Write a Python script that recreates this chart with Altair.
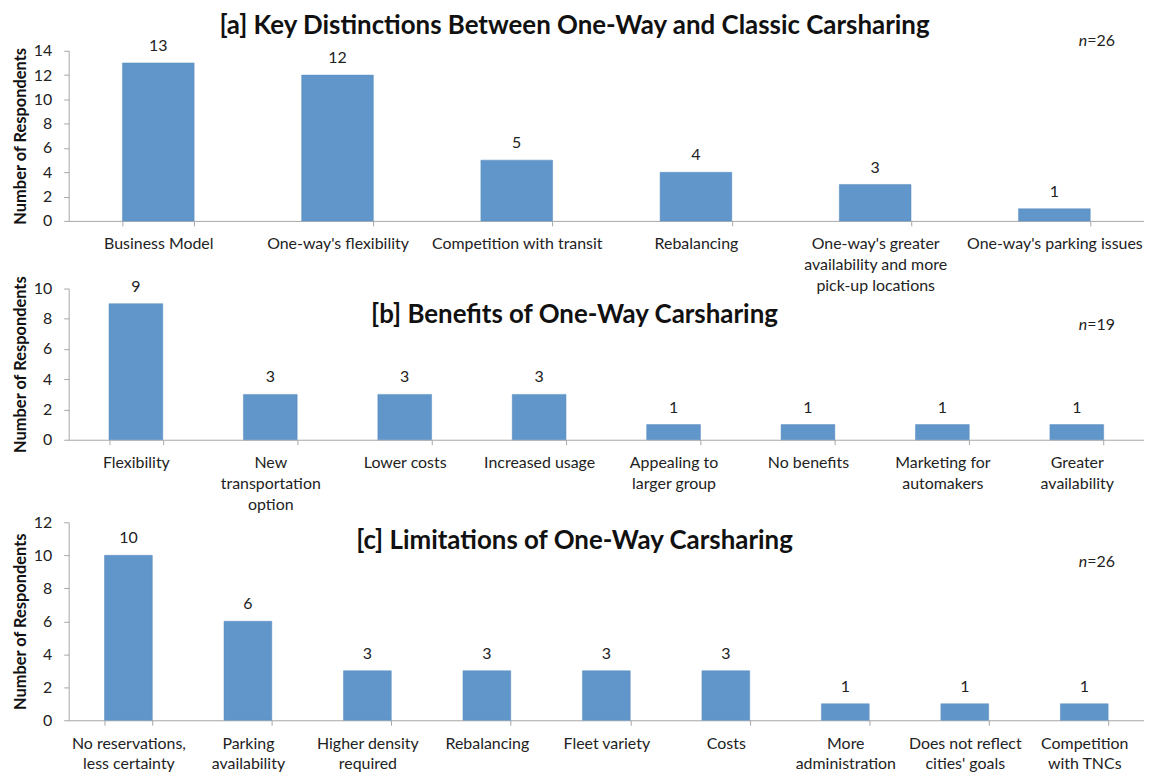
import altair as alt
import pandas as pd

# ---- data ----
cats_a = ["Business Model", "One-way's flexibility", "Competition with transit", "Rebalancing",
          "One-way's greater|availability and more|pick-up locations", "One-way's parking issues"]
vals_a = [13, 12, 5, 4, 3, 1]

cats_b = ["Flexibility", "New|transportation|option", "Lower costs", "Increased usage",
          "Appealing to|larger group", "No benefits", "Marketing for|automakers", "Greater|availability"]
vals_b = [9, 3, 3, 3, 1, 1, 1, 1]

cats_c = ["No reservations,|less certainty", "Parking|availability", "Higher density|required",
          "Rebalancing", "Fleet variety", "Costs", "More|administration",
          "Does not reflect|cities' goals", "Competition|with TNCs"]
vals_c = [10, 6, 3, 3, 3, 3, 1, 1, 1]

titles = ["[a] Key Distinctions Between One-Way and Classic Carsharing",
          "[b] Benefits of One-Way Carsharing",
          "[c] Limitations of One-Way Carsharing"]
ns = ["26", "19", "26"]
ymax = [14, 10, 12]
yticks = [list(range(0, 15, 2)), list(range(0, 11, 2)), list(range(0, 13, 2))]

W = 1081
heights = [171, 152, 199]
title_y = [-25, 27, 19]
n_y = [-10, 37, 40]

BAR = "#6096c9"
GREY = "#a6a6a6"
FONT = "Lato"


def panel(cats, vals, i):
    df = pd.DataFrame({"cat": cats, "val": vals})
    base = alt.Chart(df).encode(
        x=alt.X("cat:N", sort=cats,
                scale=alt.Scale(paddingInner=0.6, paddingOuter=0.3),
                axis=alt.Axis(title=None, labelAngle=0, labelExpr="split(datum.label, '|')",
                              tickBand="extent", tickSize=5, tickColor=GREY, domainColor=GREY,
                              labelFontSize=16, labelColor="#222222", labelPadding=10,
                              labelLineHeight=21, labelBaseline="top", labelFont=FONT)),
        y=alt.Y("val:Q", scale=alt.Scale(domain=[0, ymax[i]], nice=False),
                axis=alt.Axis(title="Number of Respondents", values=yticks[i], grid=False,
                              tickSize=5, tickColor=GREY, domainColor=GREY,
                              labelFontSize=16, labelColor="#222222", labelPadding=12,
                              titleFontSize=16.5, titleFontWeight="bold", titleColor="#111111",
                              titlePadding=5, titleFont=FONT, labelFont=FONT)),
    )
    bars = base.mark_bar(color=BAR, stroke="#5a8cbf", strokeWidth=0.5)
    labels = base.mark_text(dy=-17, fontSize=16, color="#222222", font=FONT).encode(text="val:Q")
    tdf = pd.DataFrame({"t": [titles[i]]})
    ttl = alt.Chart(tdf).mark_text(fontSize=26, fontWeight="bold", color="#111111", font=FONT).encode(
        text="t:N", x=alt.value(W / 2 - 32), y=alt.value(title_y[i]))
    ndf = pd.DataFrame({"n": ["n"], "v": ["=" + ns[i]]})
    nlab = alt.Chart(ndf).mark_text(fontSize=16, fontStyle="italic", color="#222222", font=FONT,
                                    align="right").encode(
        text="n:N", x=alt.value(1024), y=alt.value(n_y[i]))
    vlab = alt.Chart(ndf).mark_text(fontSize=16, color="#222222", font=FONT, align="left").encode(
        text="v:N", x=alt.value(1024), y=alt.value(n_y[i]))
    return alt.layer(bars, labels, ttl, nlab, vlab).properties(width=W, height=heights[i])


top = alt.vconcat(
    panel(cats_a, vals_a, 0),
    panel(cats_b, vals_b, 1),
    spacing=68,
    bounds="flush",
)

chart = alt.vconcat(
    top,
    panel(cats_c, vals_c, 2),
    spacing=2,
).properties(padding={"left": 4, "top": 3, "right": 0, "bottom": 0}).configure(font=FONT).configure_view(stroke=None)

chart.save("out.html", embed_options={"renderer": "svg", "actions": False})
